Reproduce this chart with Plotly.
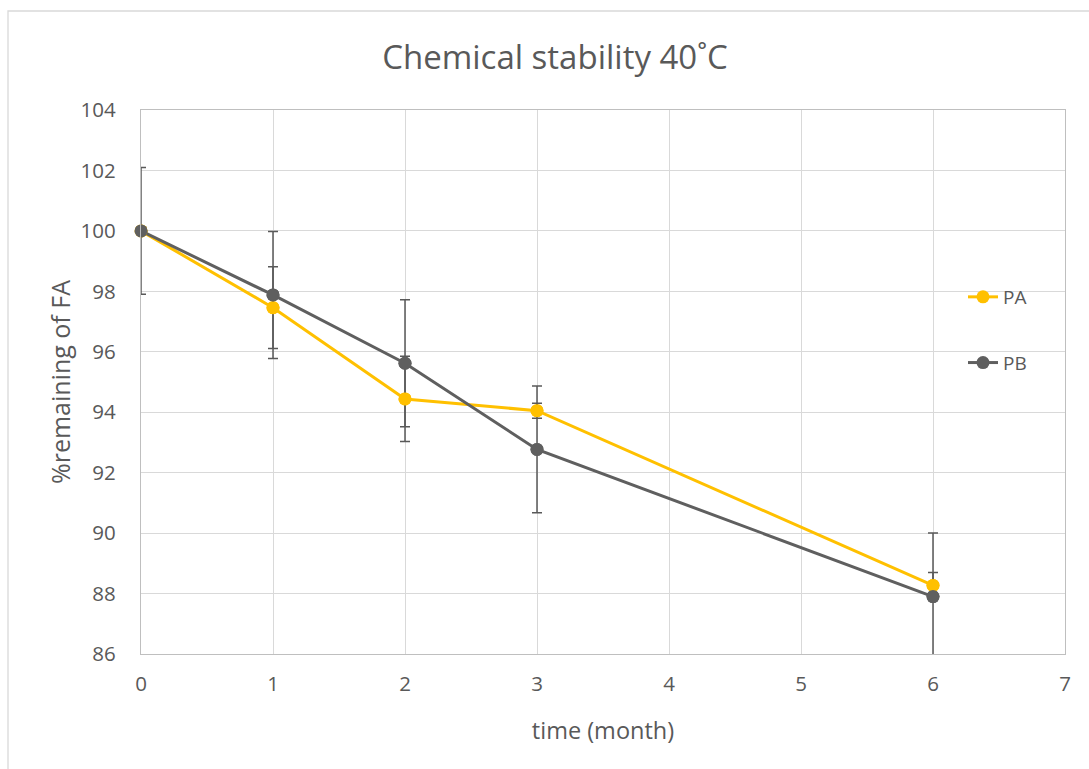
import plotly.graph_objects as go

months = [0, 1, 2, 3, 6]
pa_values = [100.0, 97.46, 94.44, 94.05, 88.27]
pa_errors = [0.0, 1.35, 1.41, 0.25, 0.43]
pb_values = [100.0, 97.88, 95.62, 92.77, 87.9]
pb_errors = [2.1, 2.1, 2.1, 2.1, 2.1]

PA_COLOR = "#FFC000"
PB_COLOR = "#5F5F5F"
ERR_COLOR = "#595959"
FONT = "Open Sans"

fig = go.Figure()
for name, vals, errs, col, grp in [("PA", pa_values, pa_errors, PA_COLOR, "a"),
                                   ("PB", pb_values, pb_errors, PB_COLOR, "b")]:
    fig.add_trace(go.Scatter(
        x=months, y=vals, name=name, mode="lines+markers",
        line=dict(color=col, width=3),
        marker=dict(color=col, size=13),
        error_y=dict(type="data", array=errs, visible=True, color=ERR_COLOR,
                     thickness=1.5, width=5),
        legendgroup=grp, cliponaxis=True,
    ))
for name, vals, col in [("PA", pa_values, PA_COLOR), ("PB", pb_values, PB_COLOR)]:
    fig.add_trace(go.Scatter(
        x=months, y=vals, mode="markers", showlegend=False,
        marker=dict(color=col, size=13), cliponaxis=False, hoverinfo="skip",
    ))

W, H = 1089, 769
L, R, T, B = 141, 24, 110, 115
pw, ph = W - L - R, H - T - B

fig.update_layout(
    width=W, height=H,
    margin=dict(l=L, r=R, t=T, b=B),
    paper_bgcolor="white", plot_bgcolor="white",
    font=dict(family=FONT, color="#595959", size=18),
    title=dict(text="Chemical stability 40˚C", x=555 / W, xanchor="center",
               y=1 - 57 / H, yanchor="middle",
               font=dict(size=33, color="#595959", family=FONT)),
    xaxis=dict(range=[0, 7], dtick=1, showgrid=True, gridcolor="#D9D9D9", gridwidth=1.3,
               showline=True, linecolor="#BFBFBF", linewidth=1.3, mirror=True,
               zeroline=False, ticks="", ticklabelstandoff=11,
               tickfont=dict(size=20.5, color="#595959"),
               title=dict(text="time (month)", font=dict(size=23.5, color="#595959"), standoff=26)),
    yaxis=dict(range=[86, 104], dtick=2, showgrid=True, gridcolor="#D9D9D9", gridwidth=1.3,
               showline=True, linecolor="#BFBFBF", linewidth=1.3, mirror=True,
               zeroline=False, ticks="", ticklabelstandoff=20,
               tickfont=dict(size=20.5, color="#595959"),
               title=dict(text="%remaining of FA", font=dict(size=25, color="#595959"), standoff=2)),
    legend=dict(x=(963 - L) / pw, y=1 - (278 - T) / ph, xanchor="left", yanchor="top",
                bgcolor="rgba(0,0,0,0)", tracegroupgap=38,
                font=dict(size=19, color="#595959")),
    showlegend=True,
    shapes=[dict(type="rect", xref="paper", yref="paper",
                 x0=(8 - L) / pw, x1=(1100 - L) / pw,
                 y0=1 + (T - 780) / ph, y1=1 + (T - 11) / ph,
                 line=dict(color="#D9D9D9", width=1.3), fillcolor="rgba(0,0,0,0)",
                 layer="below")],
)

fig.write_html("out.html")
